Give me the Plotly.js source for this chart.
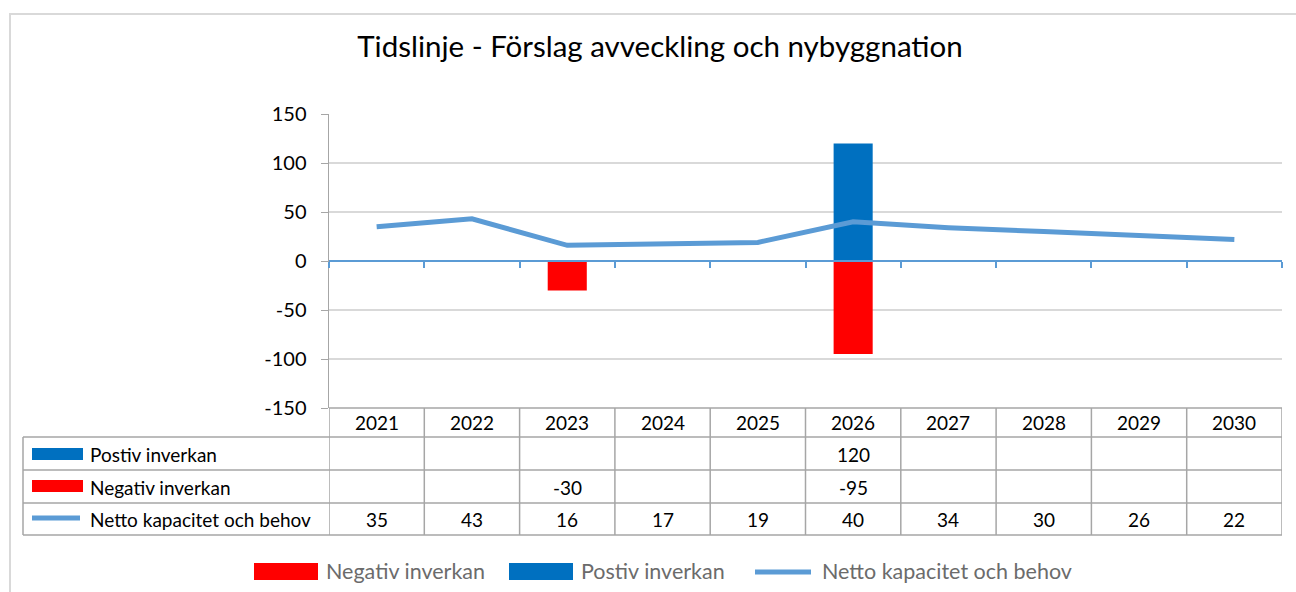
<!DOCTYPE html>
<html>
<head>
<meta charset="utf-8">
<script src="https://cdn.plot.ly/plotly-3.0.1.min.js"></script>
<style>html,body{margin:0;padding:0;background:#fff;}#chart{width:1296px;height:592px;}</style>
</head>
<body>
<div id="chart"></div>
<script>
const years = ["2021","2022","2023","2024","2025","2026","2027","2028","2029","2030"];
const positiv = [null,null,null,null,null,120,null,null,null,null];
const negativ = [null,null,-30,null,null,-95,null,null,null,null];
const netto = [35,43,16,17,19,40,34,30,26,22];
const seriesNames = ["Postiv inverkan","Negativ inverkan","Netto kapacitet och behov"];
const yTickVals = [-150,-100,-50,0,50,100,150];
const yTickText = ["-150","-100","-50","0","50","100","150"];
const titleText = "Tidslinje - Förslag avveckling och nybyggnation";

const FONT = "Lato, 'Liberation Sans', sans-serif";
const BLUE = "#0070c0", RED = "#ff0000", LINE = "#5b9bd5", GRID = "#d9d9d9", TBL = "#a6a6a6";

// layout geometry (pixels)
const W = 1296, H = 592, L = 329, R = 1282, T = 114, B = 408;
const px = p => (p - L) / (R - L);
const py = p => (B - p) / (B - T);

const traces = [
  {type:"bar", x:years, y:positiv, name:seriesNames[0], marker:{color:BLUE}, width:0.41, hoverinfo:"x+y"},
  {type:"bar", x:years, y:negativ, name:seriesNames[1], marker:{color:RED}, width:0.41, hoverinfo:"x+y"},
  {type:"scatter", mode:"lines", x:years, y:netto, name:seriesNames[2], line:{color:LINE, width:5}}
];

const shapes = [];
const annotations = [];

// outer chart border
shapes.push({type:"rect", xref:"paper", yref:"paper", x0:px(10), x1:px(1310), y0:py(14), y1:py(610),
  line:{color:"#d9d9d9", width:2}, layer:"below"});

// table rows boundaries
const rowLines = [437, 470, 503, 535];
rowLines.forEach(y => shapes.push({type:"line", xref:"paper", yref:"paper", x0:px(23), x1:px(R), y0:py(y), y1:py(y), line:{color:TBL, width:1.5}}));
shapes.push({type:"line", xref:"paper", yref:"paper", x0:px(L), x1:px(R), y0:py(408), y1:py(408), line:{color:TBL, width:1.5}});
shapes.push({type:"line", xref:"paper", yref:"paper", x0:px(23), x1:px(23), y0:py(437), y1:py(535), line:{color:TBL, width:1.5}});
for (let k = 0; k <= years.length; k++) {
  shapes.push({type:"line", xref:"x", yref:"paper", x0:k-0.5, x1:k-0.5, y0:py(408), y1:py(535), line:{color:TBL, width:1.5}});
}

const rowCenters = {header:422, pos:454, neg:487, net:519};
const tfont = {family:FONT, size:19, color:"#000"};
years.forEach((yr, i) => {
  annotations.push({xref:"x", yref:"paper", x:i, y:py(rowCenters.header), text:yr, showarrow:false, font:tfont, xanchor:"center", yanchor:"middle"});
  if (positiv[i] !== null) annotations.push({xref:"x", yref:"paper", x:i, y:py(rowCenters.pos), text:String(positiv[i]), showarrow:false, font:tfont, xanchor:"center", yanchor:"middle"});
  if (negativ[i] !== null) annotations.push({xref:"x", yref:"paper", x:i, y:py(rowCenters.neg), text:String(negativ[i]), showarrow:false, font:tfont, xanchor:"center", yanchor:"middle"});
  if (netto[i] !== null) annotations.push({xref:"x", yref:"paper", x:i, y:py(rowCenters.net), text:String(netto[i]), showarrow:false, font:tfont, xanchor:"center", yanchor:"middle"});
});

// table legend keys
shapes.push({type:"rect", xref:"paper", yref:"paper", x0:px(32), x1:px(83), y0:py(448), y1:py(460), fillcolor:BLUE, line:{width:0}});
shapes.push({type:"rect", xref:"paper", yref:"paper", x0:px(32), x1:px(83), y0:py(480), y1:py(492), fillcolor:RED, line:{width:0}});
shapes.push({type:"line", xref:"paper", yref:"paper", x0:px(32), x1:px(80), y0:py(518), y1:py(518), line:{color:LINE, width:5}});
[[seriesNames[0], rowCenters.pos],[seriesNames[1], rowCenters.neg],[seriesNames[2], rowCenters.net]].forEach(([t, y]) => {
  annotations.push({xref:"paper", yref:"paper", x:px(88), y:py(y), text:t, showarrow:false, font:tfont, xanchor:"left", yanchor:"middle"});
});

// bottom legend
const lfont = {family:FONT, size:21.5, color:"#6b6b6b"};
shapes.push({type:"rect", xref:"paper", yref:"paper", x0:px(254), x1:px(318), y0:py(563), y1:py(580), fillcolor:RED, line:{width:0}});
annotations.push({xref:"paper", yref:"paper", x:px(324), y:py(571), text:seriesNames[1], showarrow:false, font:lfont, xanchor:"left", yanchor:"middle"});
shapes.push({type:"rect", xref:"paper", yref:"paper", x0:px(509), x1:px(573), y0:py(563), y1:py(580), fillcolor:BLUE, line:{width:0}});
annotations.push({xref:"paper", yref:"paper", x:px(579), y:py(571), text:seriesNames[0], showarrow:false, font:lfont, xanchor:"left", yanchor:"middle"});
shapes.push({type:"line", xref:"paper", yref:"paper", x0:px(755), x1:px(811), y0:py(572), y1:py(572), line:{color:LINE, width:5}});
annotations.push({xref:"paper", yref:"paper", x:px(820), y:py(571), text:seriesNames[2], showarrow:false, font:lfont, xanchor:"left", yanchor:"middle"});

const layout = {
  width:W, height:H,
  margin:{l:L, r:W-R, t:T, b:H-B, pad:0},
  paper_bgcolor:"#fff", plot_bgcolor:"#fff",
  showlegend:false,
  barmode:"relative",
  title:{text:titleText, font:{family:FONT, size:29.5, color:"#000"}, x:660/W, xanchor:"center", y:1-47/H, yanchor:"middle"},
  xaxis:{type:"category", categoryorder:"array", categoryarray:years, range:[-0.5, 9.5],
    anchor:"free", position:py(261), showline:true, linecolor:LINE, linewidth:2,
    ticks:"outside", tickson:"boundaries", ticklen:6, tickcolor:LINE, tickwidth:2,
    showticklabels:false, showgrid:false, zeroline:false, fixedrange:true},
  yaxis:{range:[-150,150], tickmode:"array", tickvals:yTickVals, ticktext:yTickText,
    showline:true, linecolor:"#a6a6a6", linewidth:1.5,
    ticks:"outside", ticklen:7, tickcolor:"#a6a6a6", gridcolor:GRID, gridwidth:1.5, zeroline:false,
    tickfont:{family:FONT, size:20, color:"#000"}, ticklabelstandoff:10, fixedrange:true},
  shapes:shapes, annotations:annotations
};

Plotly.newPlot("chart", traces, layout, {displayModeBar:false, staticPlot:true});
</script>
</body>
</html>
